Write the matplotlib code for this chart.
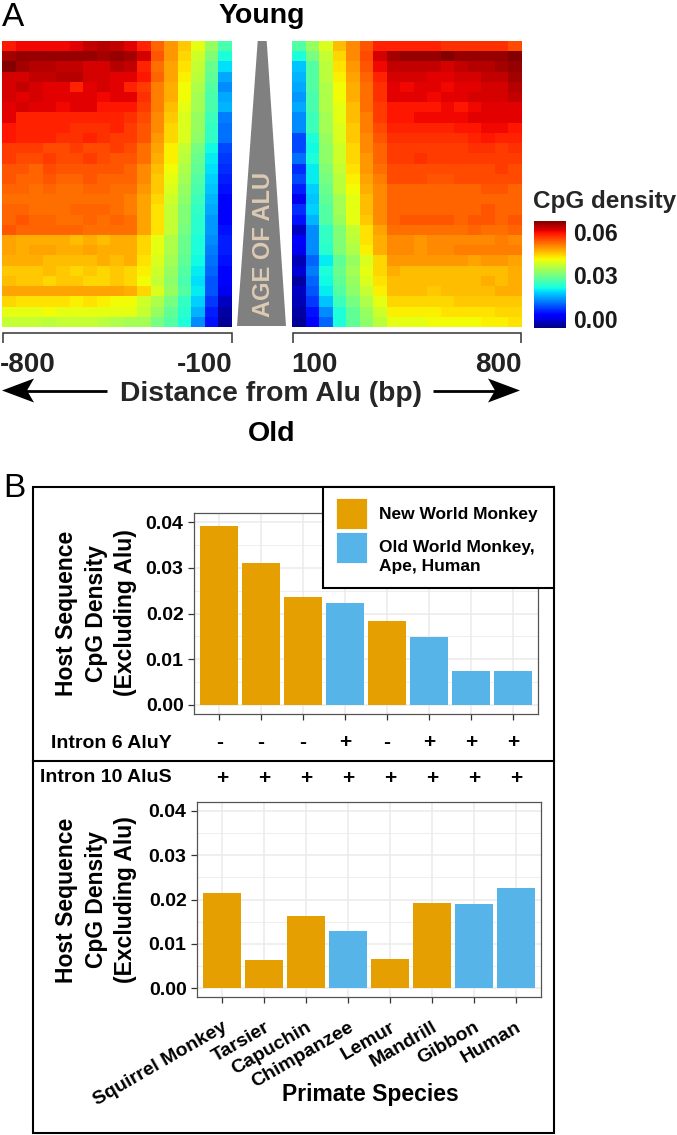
import numpy as np
import matplotlib
matplotlib.use("Agg")
import matplotlib.pyplot as plt
from matplotlib.patches import Polygon, Rectangle
from matplotlib.colors import Normalize
from matplotlib.cm import ScalarMappable
from matplotlib.ticker import FixedLocator

plt.rcParams['font.family'] = ['Liberation Sans', 'DejaVu Sans']

# ---------------- data ----------------
# Panel A: CpG density (x1e-3) per Alu-age row (young at top) and 17 distance bins
left_rows = [
    [59, 60, 60, 60, 60, 61, 63, 64, 63, 61, 58, 53, 49, 45, 40, 33, 26],
    [65, 66, 66, 66, 66, 66, 66, 65, 66, 65, 62, 54, 49, 44, 38, 31, 22],
    [67, 65, 64, 64, 63, 63, 62, 62, 64, 63, 58, 52, 48, 43, 37, 29, 19],
    [62, 62, 63, 63, 64, 64, 62, 62, 61, 61, 59, 53, 48, 42, 36, 28, 15],
    [62, 63, 62, 61, 61, 58, 61, 62, 61, 58, 56, 51, 47, 41, 35, 27, 13],
    [62, 61, 62, 61, 61, 61, 61, 60, 61, 61, 57, 51, 47, 41, 34, 26, 15],
    [61, 62, 61, 61, 60, 61, 61, 59, 59, 59, 56, 51, 46, 40, 34, 26, 16],
    [61, 58, 58, 58, 58, 58, 58, 58, 58, 57, 55, 50, 45, 39, 33, 25, 12],
    [59, 58, 58, 58, 58, 57, 57, 57, 58, 56, 54, 50, 44, 39, 33, 24, 11],
    [59, 58, 58, 58, 57, 57, 58, 57, 56, 56, 54, 49, 44, 39, 32, 24, 11],
    [56, 56, 56, 55, 55, 56, 55, 55, 56, 55, 52, 48, 42, 37, 30, 21, 8],
    [56, 55, 55, 56, 55, 55, 56, 55, 54, 54, 52, 47, 42, 36, 29, 20, 7],
    [54, 54, 53, 55, 54, 54, 54, 54, 54, 53, 50, 46, 41, 35, 28, 19, 6],
    [54, 53, 53, 54, 53, 53, 54, 53, 53, 53, 50, 45, 40, 34, 27, 18, 5],
    [53, 53, 52, 53, 52, 52, 53, 53, 52, 52, 49, 45, 39, 33, 26, 17, 4],
    [52, 52, 52, 52, 52, 52, 52, 52, 52, 51, 48, 44, 38, 32, 25, 16, 3],
    [53, 53, 52, 52, 52, 53, 53, 53, 52, 51, 48, 43, 37, 31, 24, 15, 2],
    [53, 54, 53, 53, 52, 52, 53, 52, 53, 52, 48, 43, 37, 31, 23, 14, 2],
    [54, 53, 53, 53, 53, 53, 52, 52, 52, 52, 48, 43, 37, 30, 23, 14, 4],
    [48, 47, 47, 47, 47, 46, 47, 46, 47, 47, 44, 40, 35, 29, 22, 13, 5],
    [48, 47, 48, 48, 47, 47, 48, 47, 47, 47, 44, 40, 35, 29, 22, 12, 5],
    [47, 47, 47, 46, 46, 46, 46, 47, 46, 47, 43, 39, 34, 28, 21, 11, 4],
    [45, 45, 45, 46, 45, 44, 45, 44, 45, 44, 42, 38, 33, 27, 20, 10, 3],
    [46, 45, 45, 44, 45, 45, 44, 44, 45, 44, 41, 37, 32, 26, 19, 9, 3],
    [48, 48, 48, 48, 48, 48, 48, 48, 48, 47, 44, 39, 33, 27, 20, 9, 1],
    [44, 43, 43, 43, 43, 42, 43, 42, 41, 41, 38, 35, 30, 24, 18, 7, -2],
    [40, 40, 40, 41, 40, 40, 40, 40, 40, 40, 37, 33, 28, 23, 16, 5, -4],
    [37, 37, 37, 36, 37, 37, 37, 36, 35, 34, 34, 30, 27, 22, 13, 4, -5],
]
right_rows = [
    [27, 33, 39, 46, 50, 54, 58, 58, 58, 58, 58, 57, 57, 57, 57, 57, 55],
    [22, 30, 37, 44, 50, 55, 62, 65, 66, 66, 66, 67, 66, 66, 66, 66, 67],
    [17, 27, 36, 43, 49, 54, 60, 63, 63, 63, 63, 62, 63, 64, 64, 65, 66],
    [16, 27, 36, 42, 48, 53, 58, 62, 62, 62, 61, 61, 62, 62, 63, 63, 65],
    [15, 27, 35, 41, 47, 52, 57, 61, 60, 61, 61, 60, 61, 61, 62, 62, 64],
    [14, 26, 35, 41, 47, 52, 57, 61, 61, 61, 60, 61, 61, 62, 62, 62, 63],
    [15, 26, 35, 40, 46, 52, 56, 59, 59, 59, 59, 60, 59, 60, 61, 61, 61],
    [13, 25, 34, 40, 46, 51, 56, 59, 59, 60, 60, 60, 60, 61, 61, 61, 61],
    [13, 25, 34, 39, 45, 51, 55, 58, 58, 58, 58, 58, 59, 59, 60, 60, 59],
    [8, 22, 33, 39, 45, 50, 54, 57, 57, 57, 57, 57, 57, 58, 59, 58, 58],
    [8, 21, 32, 38, 44, 50, 53, 56, 56, 56, 56, 56, 56, 57, 57, 56, 57],
    [11, 22, 32, 38, 44, 49, 53, 56, 56, 57, 56, 56, 56, 56, 56, 56, 56],
    [6, 20, 31, 37, 43, 49, 52, 55, 55, 55, 55, 55, 55, 55, 55, 56, 55],
    [8, 20, 30, 36, 42, 48, 51, 55, 55, 55, 54, 54, 55, 55, 55, 55, 55],
    [5, 18, 29, 36, 41, 47, 50, 53, 53, 53, 53, 53, 53, 53, 54, 54, 53],
    [1, 17, 28, 34, 40, 46, 50, 53, 53, 53, 53, 53, 53, 53, 53, 53, 53],
    [6, 18, 27, 34, 40, 46, 50, 53, 53, 53, 53, 53, 53, 53, 54, 53, 53],
    [4, 16, 27, 33, 40, 45, 50, 53, 54, 54, 54, 54, 53, 54, 54, 53, 54],
    [-2, 13, 24, 31, 37, 43, 48, 52, 52, 52, 52, 52, 52, 53, 52, 52, 53],
    [3, 13, 24, 31, 36, 43, 47, 50, 50, 49, 50, 50, 50, 50, 50, 51, 50],
    [1, 13, 23, 31, 35, 42, 47, 50, 50, 49, 50, 50, 51, 51, 51, 51, 51],
    [-3, 10, 20, 28, 33, 39, 44, 49, 49, 49, 49, 49, 49, 48, 49, 49, 48],
    [-1, 12, 22, 29, 34, 40, 44, 47, 46, 46, 46, 46, 46, 46, 46, 46, 47],
    [-4, 10, 21, 28, 33, 39, 43, 46, 46, 46, 46, 46, 46, 46, 47, 46, 47],
    [-2, 9, 20, 27, 32, 37, 42, 46, 46, 46, 45, 46, 46, 46, 46, 47, 47],
    [-3, 7, 17, 25, 30, 35, 40, 44, 44, 44, 44, 44, 45, 45, 45, 45, 45],
    [-4, 4, 13, 22, 28, 33, 38, 42, 42, 42, 42, 43, 43, 43, 43, 44, 44],
    [-5, 2, 10, 22, 28, 32, 36, 40, 40, 40, 41, 41, 41, 41, 42, 42, 43],
]
density_scale = 1e-3
cbar_limits = (-0.0065, 0.0675)
cbar_ticks = [0.00, 0.03, 0.06]
left_tick_labels = ["-800", "-100"]
right_tick_labels = ["100", "800"]

# Panel B
species = ["Squirrel Monkey", "Tarsier", "Capuchin", "Chimpanzee",
           "Lemur", "Mandrill", "Gibbon", "Human"]
intron6_vals = [0.0391, 0.0310, 0.0236, 0.0222, 0.0183, 0.0148, 0.0075, 0.0075]
intron6_group = ["NWM", "NWM", "NWM", "OWM", "NWM", "OWM", "OWM", "OWM"]
intron10_vals = [0.0214, 0.0063, 0.0162, 0.0129, 0.0065, 0.0193, 0.0189, 0.0225]
intron10_group = ["NWM", "NWM", "NWM", "OWM", "NWM", "NWM", "OWM", "OWM"]
intron6_marks = ["-", "-", "-", "+", "-", "+", "+", "+"]
intron10_marks = ["+", "+", "+", "+", "+", "+", "+", "+"]
group_colors = {"NWM": "#E69F00", "OWM": "#56B4E9"}
group_labels = {"NWM": "New World Monkey", "OWM": "Old World Monkey,\nApe, Human"}
y_major = [0.00, 0.01, 0.02, 0.03, 0.04]
y_minor = [0.005, 0.015, 0.025, 0.035]

# ---------------- figure ----------------
W, H = 677, 1135
fig = plt.figure(figsize=(W / 100, H / 100), dpi=100)


def px_axes(x0, y0, x1, y1, **kw):
    return fig.add_axes([x0 / W, 1 - y1 / H, (x1 - x0) / W, (y1 - y0) / H], **kw)


norm = Normalize(vmin=cbar_limits[0], vmax=cbar_limits[1])
cmap = plt.get_cmap('jet')

axL = px_axes(2, 41, 232, 327)
axL.imshow(np.array(left_rows) * density_scale, cmap=cmap, norm=norm,
           aspect='auto', interpolation='nearest')
axL.axis('off')
axR = px_axes(292, 41, 521, 327)
axR.imshow(np.array(right_rows) * density_scale, cmap=cmap, norm=norm,
           aspect='auto', interpolation='nearest')
axR.axis('off')

cax = px_axes(534, 221, 566, 328)
cb = fig.colorbar(ScalarMappable(norm=norm, cmap=cmap), cax=cax, ticks=cbar_ticks)
cb.outline.set_visible(False)
cax.tick_params(length=0, pad=5, labelsize=16.6, labelcolor='#1a1a1a')
cax.set_yticklabels([f"{t:.2f}" for t in cbar_ticks], fontweight='bold')

# ---------------- panel B bars ----------------
def bar_panel(rect, vals, groups):
    ax = px_axes(*rect)
    x = np.arange(len(vals))
    ax.bar(x, vals, width=0.9, color=[group_colors[g] for g in groups], zorder=3)
    ax.set_xlim(-0.6, len(vals) - 0.4)
    ax.set_ylim(-0.002, 0.042)
    ax.set_xticks(x)
    ax.set_yticks(y_major)
    ax.yaxis.set_minor_locator(FixedLocator(y_minor))
    ax.set_yticklabels([f"{v:.2f}" for v in y_major], fontsize=14, fontweight='bold')
    ax.set_axisbelow(True)
    ax.grid(which='major', color='#EBEBEB', lw=1.1)
    ax.grid(which='minor', axis='y', color='#EBEBEB', lw=0.6)
    ax.tick_params(which='major', length=4.5, width=0.9, color='#333333', pad=3)
    ax.tick_params(which='minor', length=0)
    for s in ax.spines.values():
        s.set_color('#555555')
        s.set_linewidth(0.9)
    return ax


axT = bar_panel((194, 513, 538, 714), intron6_vals, intron6_group)
axT.set_xticklabels([])
axB = bar_panel((197, 802, 541, 997), intron10_vals, intron10_group)
axB.set_xticklabels(species, rotation=30, ha='right', va='top', rotation_mode='anchor',
                    fontsize=14, fontweight='bold')
axB.tick_params(axis='x', pad=11)

for i, m in enumerate(intron6_marks):
    axT.text(i, -(742.7 - 714) / (714 - 513), m, transform=axT.get_xaxis_transform(),
             ha='center', va='center', fontsize=15, fontweight='bold')
for i, m in enumerate(intron10_marks):
    axB.text(i, 1 + (802 - 778) / (997 - 802), m, transform=axB.get_xaxis_transform(),
             ha='center', va='center', fontsize=15, fontweight='bold')

# ---------------- overlay (annotations) ----------------
ov = fig.add_axes([0, 0, 1, 1])
ov.set_xlim(0, W)
ov.set_ylim(H, 0)
ov.axis('off')
ov.patch.set_alpha(0)

ov.text(2, 26, "A", fontsize=24, ha='left', va='baseline')
ov.text(262, 23, "Young", fontsize=20.5, fontweight='bold', ha='center', va='baseline')
ov.text(272, 441, "Old", fontsize=20.5, fontweight='bold', ha='center', va='baseline')

# triangle
ov.add_patch(Polygon([(257.7, 41), (266.7, 41), (286, 326), (237, 326)],
                     closed=True, fc='#808080', ec='none'))
ov.text(263, 244, "AGE OF ALU", rotation=90, fontsize=17, fontweight='bold',
        color='#DCCBB4', ha='center', va='center')

# brackets
for (xa, xb) in [(2.5, 231.5), (292.5, 520.5)]:
    ov.plot([xa, xa, xb, xb], [343, 333, 333, 343], color='#333333', lw=1.1,
            solid_joinstyle='miter', solid_capstyle='butt')
tc = '#222222'
ov.text(0, 372, left_tick_labels[0], fontsize=20, fontweight='bold', color=tc, ha='left', va='baseline')
ov.text(233, 372, left_tick_labels[1], fontsize=20, fontweight='bold', color=tc, ha='right', va='baseline')
ov.text(291, 372, right_tick_labels[0], fontsize=20, fontweight='bold', color=tc, ha='left', va='baseline')
ov.text(522, 372, right_tick_labels[1], fontsize=20, fontweight='bold', color=tc, ha='right', va='baseline')

ov.text(271.5, 401, "Distance from Alu (bp)", fontsize=20.3, fontweight='bold',
        color='#262626', ha='center', va='baseline')
# arrows
yA = 390.5
ov.plot([26, 107], [yA, yA], color='black', lw=2.0, solid_capstyle='butt')
ov.add_patch(Polygon([(2, yA), (34, yA - 12), (27, yA), (34, yA + 12)], closed=True,
                     fc='black', ec='none'))
ov.plot([433, 496], [yA, yA], color='black', lw=2.0, solid_capstyle='butt')
ov.add_patch(Polygon([(520, yA), (488, yA - 12), (495, yA), (488, yA + 12)], closed=True,
                     fc='black', ec='none'))

ov.text(533, 208, "CpG density", fontsize=17.5, fontweight='bold', color='#262626',
        ha='left', va='baseline')

# panel B frame
ov.text(3, 497, "B", fontsize=24, ha='left', va='baseline')
ov.add_patch(Rectangle((33, 487), 554 - 33, 1133 - 487, fill=False, ec='black', lw=1.5))
ov.plot([33, 554], [760.5, 760.5], color='black', lw=1.5)

# legend
ov.add_patch(Rectangle((323, 487), 554 - 323, 588 - 487, fc='white', ec='black', lw=1.5))
for k, (g, y0) in enumerate([("NWM", 498), ("OWM", 532)]):
    ov.add_patch(Rectangle((336, y0), 31, 31, fc=group_colors[g], ec='white', lw=0.6))
ov.text(379, 514, group_labels["NWM"], fontsize=12.5, fontweight='bold', ha='left', va='center')
ov.text(379, 557, group_labels["OWM"], fontsize=12.5, fontweight='bold', ha='left', va='center',
        linespacing=1.3)

ylab = "Host Sequence\nCpG Density\n(Excluding Alu)"
ov.text(96, 613, ylab, rotation=90, fontsize=16.5, fontweight='bold', ha='center', va='center',
        multialignment='center', linespacing=1.38)
ov.text(96, 900, ylab, rotation=90, fontsize=16.5, fontweight='bold', ha='center', va='center',
        multialignment='center', linespacing=1.38)

ov.text(172, 743, "Intron 6 AluY", fontsize=14, fontweight='bold', ha='right', va='center')
ov.text(172, 778, "Intron 10 AluS", fontsize=14, fontweight='bold', ha='right', va='center')
ov.text(370, 1094, "Primate Species", fontsize=16.5, fontweight='bold', ha='center', va='center')

fig.savefig("out.png", dpi=100)
